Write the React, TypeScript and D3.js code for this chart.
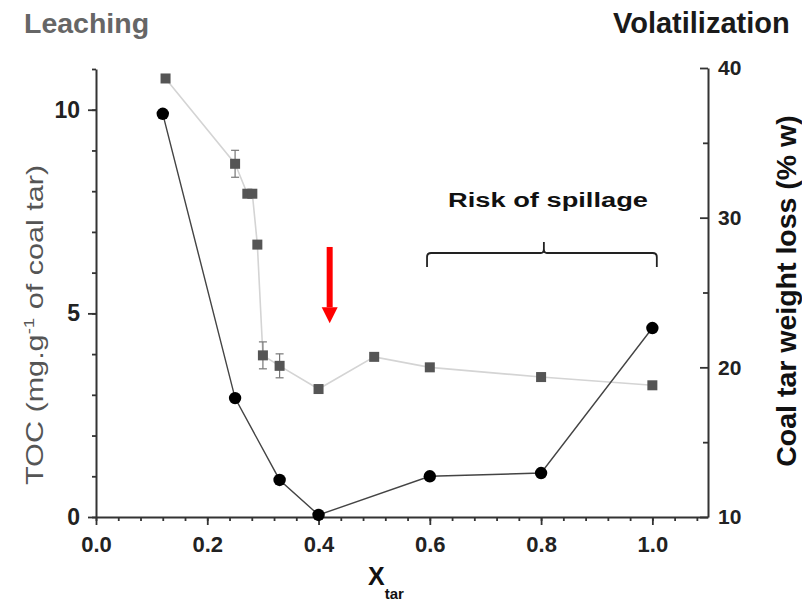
import React, { useEffect, useRef } from 'react'
import * as d3 from 'd3'

// TOC leaching (left axis) - black circles
const tocX = [0.12, 0.25, 0.33, 0.4, 0.6, 0.8, 1.0]
const tocY = [9.9, 2.92, 0.91, 0.05, 1.0, 1.08, 4.64]

// coal tar weight loss (right axis) - grey squares
const lossX = [0.125, 0.25, 0.272, 0.281, 0.29, 0.3, 0.33, 0.4, 0.5, 0.6, 0.8, 1.0]
const lossY = [39.3, 33.6, 31.6, 31.6, 28.2, 20.8, 20.1, 18.55, 20.7, 20.0, 19.35, 18.8]
const lossErr = [0, 0.9, 0, 0, 0, 0.9, 0.8, 0, 0, 0.25, 0.25, 0]

const xTicks = [0, 0.2, 0.4, 0.6, 0.8, 1.0]
const leftTicks = [0, 5, 10]
const rightTicks = [10, 20, 30, 40]

const FONT = '"Liberation Sans", Arial, sans-serif'

export default function App() {
  const xAxisRef = useRef<SVGGElement>(null)
  const xMinorRef = useRef<SVGGElement>(null)
  const lAxisRef = useRef<SVGGElement>(null)
  const lMinorRef = useRef<SVGGElement>(null)
  const rAxisRef = useRef<SVGGElement>(null)
  const rMinorRef = useRef<SVGGElement>(null)

  const x = d3.scaleLinear().domain([0, 1.1]).range([96, 708])
  const yL = d3.scaleLinear().domain([0, 11]).range([517, 69])
  const yR = d3.scaleLinear().domain([10, 40]).range([517, 68])

  useEffect(() => {
    const style = (g: any) => {
      g.selectAll('path').attr('stroke', '#333').attr('stroke-width', 2)
      g.selectAll('line').attr('stroke', '#333').attr('stroke-width', 1.8)
      g.selectAll('text')
        .attr('font-family', FONT)
        .attr('font-weight', 'bold')
        .attr('font-size', 22)
        .attr('fill', '#222')
    }

    const xa = d3.select(xAxisRef.current!)
    xa.call(
      d3.axisBottom(x).tickValues(xTicks).tickSize(8).tickPadding(11)
        .tickSizeOuter(0).tickFormat(d3.format('.1f'))
    )
    style(xa)
    const xm = d3.select(xMinorRef.current!)
    xm.call(d3.axisBottom(x).tickValues(d3.range(0, 1.1, 0.04)).tickSize(4).tickFormat(() => '').tickSizeOuter(0))
    style(xm)
    xm.select('path').remove()

    const la = d3.select(lAxisRef.current!)
    la.call(d3.axisLeft(yL).tickValues(leftTicks).tickSize(8).tickPadding(8).tickSizeOuter(0).tickFormat(d3.format('d')))
    style(la)
    la.selectAll('text').attr('font-size', 23)
    const lm = d3.select(lMinorRef.current!)
    lm.call(d3.axisLeft(yL).tickValues(d3.range(0, 12, 1)).tickSize(4).tickFormat(() => '').tickSizeOuter(0))
    style(lm)
    lm.select('path').remove()

    const ra = d3.select(rAxisRef.current!)
    ra.call(d3.axisRight(yR).tickValues(rightTicks).tickSize(-8).tickPadding(10).tickSizeOuter(0).tickFormat(d3.format('d')))
    style(ra)
    ra.selectAll('text').attr('font-size', 21)
    const rm = d3.select(rMinorRef.current!)
    rm.call(d3.axisRight(yR).tickValues([15, 25, 35]).tickSize(-5).tickFormat(() => '').tickSizeOuter(0))
    style(rm)
    rm.select('path').remove()
  }, [])

  const lossPts = lossX.map((v, i) => ({ x: v, y: lossY[i], e: lossErr[i] }))
  const tocPts = tocX.map((v, i) => ({ x: v, y: tocY[i] }))

  const lossLine = d3.line<any>().x(d => x(d.x)).y(d => yR(d.y))(lossPts)
  const tocLine = d3.line<any>().x(d => x(d.x)).y(d => yL(d.y))(tocPts)

  // arrow & brace positions in data units
  const arrowX = x(0.42)
  const arrowTop = yL(6.63)
  const arrowHead = yL(5.15)
  const arrowTip = yL(4.76)

  const bx0 = x(0.595)
  const bx1 = x(1.008)
  const bxm = x(0.805)
  const by = yR(27.64)
  const bracePath = `M${bx0},${by + 14} L${bx0},${by + 4} Q${bx0},${by} ${bx0 + 4},${by} L${bxm - 3},${by} Q${bxm},${by} ${bxm},${by - 4} L${bxm},${by - 11} M${bxm},${by - 4} Q${bxm},${by} ${bxm + 3},${by} L${bx1 - 4},${by} Q${bx1},${by} ${bx1},${by + 4} L${bx1},${by + 14}`

  return (
    <svg width={802} height={601} style={{ position: 'absolute', left: 0, top: 0, background: '#fff' }}
      fontFamily={FONT}>
      <text x={24} y={33} fontSize={28.5} fontWeight="bold" fill="#666">Leaching</text>
      <text x={613} y={33} fontSize={29} fontWeight="bold" fill="#1a1a1a">Volatilization</text>

      <g ref={xMinorRef} transform="translate(0,517)" />
      <g ref={xAxisRef} transform="translate(0,517)" />
      <g ref={lMinorRef} transform="translate(96,0)" />
      <g ref={lAxisRef} transform="translate(96,0)" />
      <g ref={rMinorRef} transform="translate(708,0)" />
      <g ref={rAxisRef} transform="translate(708,0)" />

      {/* squares series */}
      <path d={lossLine!} fill="none" stroke="#d4d4d4" strokeWidth={1.6} />
      {lossPts.filter(d => d.e > 0).map((d, i) => (
        <g key={'e' + i} stroke="#777" strokeWidth={1.2}>
          <line x1={x(d.x)} x2={x(d.x)} y1={yR(d.y - d.e)} y2={yR(d.y + d.e)} />
          <line x1={x(d.x) - 4} x2={x(d.x) + 4} y1={yR(d.y + d.e)} y2={yR(d.y + d.e)} />
          <line x1={x(d.x) - 4} x2={x(d.x) + 4} y1={yR(d.y - d.e)} y2={yR(d.y - d.e)} />
        </g>
      ))}
      {lossPts.map((d, i) => (
        <rect key={'s' + i} x={x(d.x) - 5} y={yR(d.y) - 5} width={10} height={10} fill="#555" />
      ))}

      {/* circles series */}
      <path d={tocLine!} fill="none" stroke="#444" strokeWidth={1.4} />
      {tocPts.map((d, i) => (
        <circle key={'c' + i} cx={x(d.x)} cy={yL(d.y)} r={6.2} fill="#000" />
      ))}

      {/* red arrow */}
      <rect x={arrowX - 3} y={arrowTop} width={6} height={arrowHead - arrowTop} fill="#ff0000" />
      <polygon points={`${arrowX - 8},${arrowHead} ${arrowX + 8},${arrowHead} ${arrowX},${arrowTip}`} fill="#ff0000" />

      {/* brace */}
      <path d={bracePath} fill="none" stroke="#222" strokeWidth={1.8} />
      <text x={448} y={207} fontSize={20} fontWeight="bold" fill="#111" textLength={200} lengthAdjust="spacingAndGlyphs">Risk of spillage</text>

      {/* axis titles */}
      <text transform="translate(43,485) rotate(-90) scale(1.33,1)" fontSize={23} fill="#555">
        TOC (mg.g<tspan dy={-9} fontSize={14}>-1</tspan><tspan dy={9}> of coal tar)</tspan>
      </text>
      <text transform="translate(796,291) rotate(-90)" textAnchor="middle" fontSize={28.5} fontWeight="bold" fill="#111">
        Coal tar weight loss (% w)
      </text>
      <text x={368} y={585} fontSize={25} fontWeight="bold" fill="#111">X<tspan fontSize={15} dy={14}>tar</tspan></text>
    </svg>
  )
}
